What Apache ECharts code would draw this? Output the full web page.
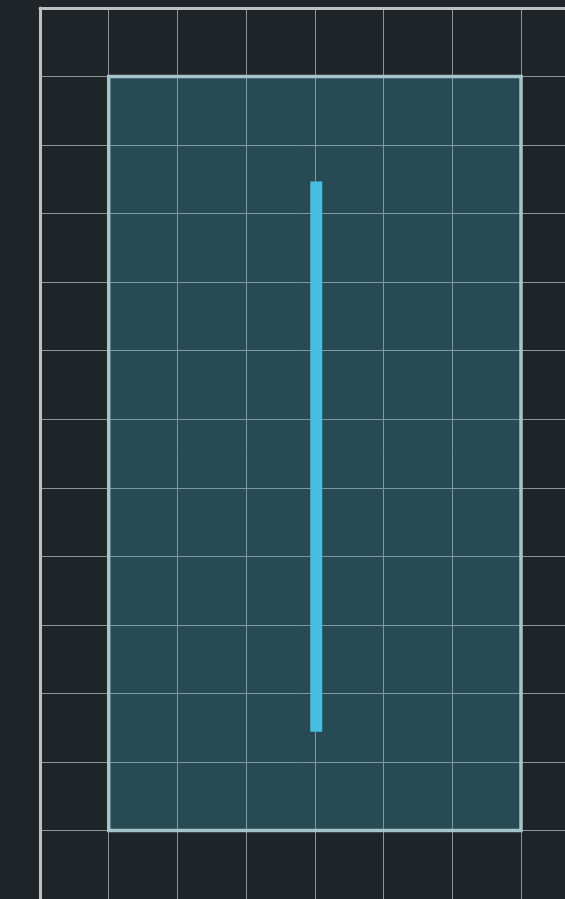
<!DOCTYPE html>
<html>
<head>
<meta charset="utf-8">
<script src="https://cdn.jsdelivr.net/npm/echarts@6/dist/echarts.min.js"></script>
<style>
html,body{margin:0;padding:0;background:#1e2427;}
#main{width:565px;height:899px;}
</style>
</head>
<body>
<div id="main"></div>
<script>
// Data
var xRange = [0, 7.64];
var yRange = [0, 13];
var highlightX = [1, 7];
var highlightY = [1, 12];
var barX = [4.02, 4.02];
var barY = [2.44, 10.47];

var chart = echarts.init(document.getElementById('main'));
chart.setOption({
  backgroundColor: '#1e2427',
  animation: false,
  grid: {
    left: 40,
    top: 8,
    right: 0,
    bottom: 0,
    show: false
  },
  xAxis: {
    type: 'value',
    position: 'top',
    min: xRange[0],
    max: xRange[1],
    interval: 1,
    axisLabel: { show: false },
    axisTick: { show: false },
    axisLine: { show: true, onZero: false, lineStyle: { color: '#bcbec0', width: 3 } },
    splitLine: { show: true, lineStyle: { color: '#909396', width: 1 } }
  },
  yAxis: {
    type: 'value',
    min: yRange[0],
    max: yRange[1],
    interval: 1,
    axisLabel: { show: false },
    axisTick: { show: false },
    axisLine: { show: true, onZero: false, lineStyle: { color: '#bcbec0', width: 3 } },
    splitLine: { show: true, lineStyle: { color: '#909396', width: 1 } }
  },
  series: [
    {
      type: 'line',
      data: [[highlightX[0], highlightY[0]]],
      symbol: 'none',
      lineStyle: { width: 0 },
      markArea: {
        silent: true,
        itemStyle: {
          color: 'rgba(64,170,198,0.29)',
          borderColor: '#a6c4cc',
          borderWidth: 3.5
        },
        data: [[
          { coord: [highlightX[0], highlightY[0]] },
          { coord: [highlightX[1], highlightY[1]] }
        ]]
      },
      z: 1
    },
    {
      type: 'line',
      data: [[barX[0], barY[0]], [barX[1], barY[1]]],
      symbol: 'none',
      lineStyle: { color: '#47bee0', width: 12, cap: 'butt' },
      z: 5
    }
  ]
});
</script>
</body>
</html>
